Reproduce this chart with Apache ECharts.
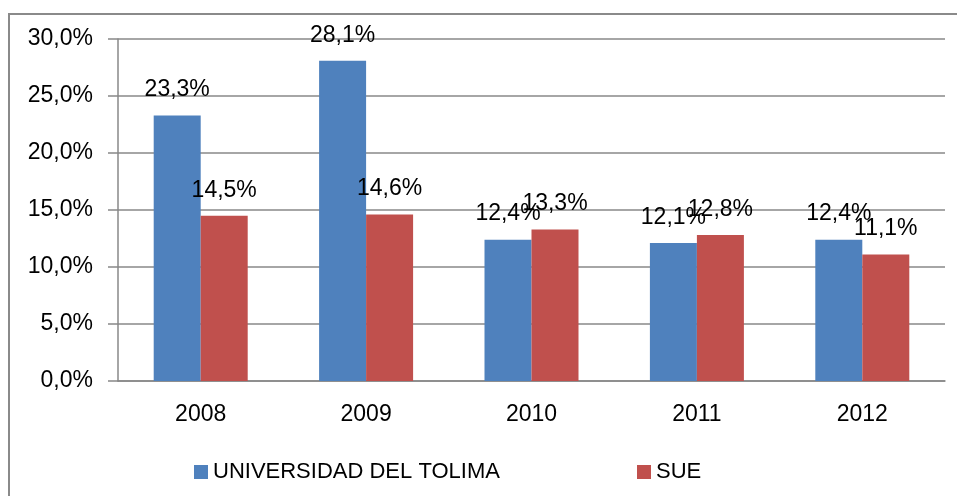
<!DOCTYPE html>
<html lang="es">
<head>
    <meta charset="UTF-8">
    <script src="https://cdn.jsdelivr.net/npm/echarts@6/dist/echarts.min.js"></script>
    <style>
        body { margin: 0; background: #fff; }
        #chart { width: 957px; height: 496px; }
    </style>
</head>
<body>
<div id="chart"></div>
<script>
    // datos
    var years = ['2008', '2009', '2010', '2011', '2012'];
    var tolima = [23.3, 28.1, 12.4, 12.1, 12.4];
    var sue = [14.5, 14.6, 13.3, 12.8, 11.1];
    var yTicks = [0, 5, 10, 15, 20, 25, 30];

    var font = 'Liberation Sans';
    function pct(v) { return v.toFixed(1).replace('.', ',') + '%'; }

    var chart = echarts.init(document.getElementById('chart'));
    chart.setOption({
        animation: false,
        textStyle: { fontFamily: font },
        graphic: [{
            type: 'rect',
            shape: { x: 9, y: 14, width: 1000, height: 1000 },
            style: { fill: 'none', stroke: '#8a8a8a', lineWidth: 2 },
            silent: true
        }],
        grid: { left: 118, right: 12, top: 39, bottom: 115 },
        legend: [{
            left: 189, top: 456,
            itemWidth: 14, itemHeight: 14, itemGap: 10, itemTextGap: 8,
            icon: 'rect',
            textStyle: { fontSize: 22, color: '#000', fontFamily: font },
            data: ['UNIVERSIDAD DEL TOLIMA']
        }, {
            left: 632, top: 456,
            itemWidth: 14, itemHeight: 14, itemTextGap: 8,
            icon: 'rect',
            textStyle: { fontSize: 22, color: '#000', fontFamily: font },
            data: ['SUE']
        }],
        xAxis: {
            type: 'category',
            data: years,
            axisLine: { lineStyle: { color: '#888', width: 1.5 } },
            axisTick: { length: 8, lineStyle: { color: '#888', width: 1.5 } },
            axisLabel: { fontSize: 23, color: '#000', margin: 22 }
        },
        yAxis: {
            type: 'value',
            min: yTicks[0],
            max: yTicks[yTicks.length - 1],
            interval: 5,
            axisLine: { show: true, lineStyle: { color: '#888', width: 1.5 } },
            axisTick: { show: true, length: 10, lineStyle: { color: '#888', width: 1.5 } },
            axisLabel: { fontSize: 23, color: '#000', margin: 25, formatter: pct },
            splitLine: { lineStyle: { color: '#888', width: 1.5 } }
        },
        series: [{
            name: 'UNIVERSIDAD DEL TOLIMA',
            type: 'bar',
            data: tolima,
            barWidth: 47,
            barGap: '0%',
            itemStyle: { color: '#4f81bd' },
            label: { show: true, position: 'top', distance: 14, fontSize: 23, color: '#000', formatter: function (p) { return pct(p.value); } }
        }, {
            name: 'SUE',
            type: 'bar',
            data: sue,
            barWidth: 47,
            barGap: '0%',
            itemStyle: { color: '#c0504d' },
            label: { show: true, position: 'top', distance: 14, fontSize: 23, color: '#000', formatter: function (p) { return pct(p.value); } }
        }]
    });
</script>
</body>
</html>
